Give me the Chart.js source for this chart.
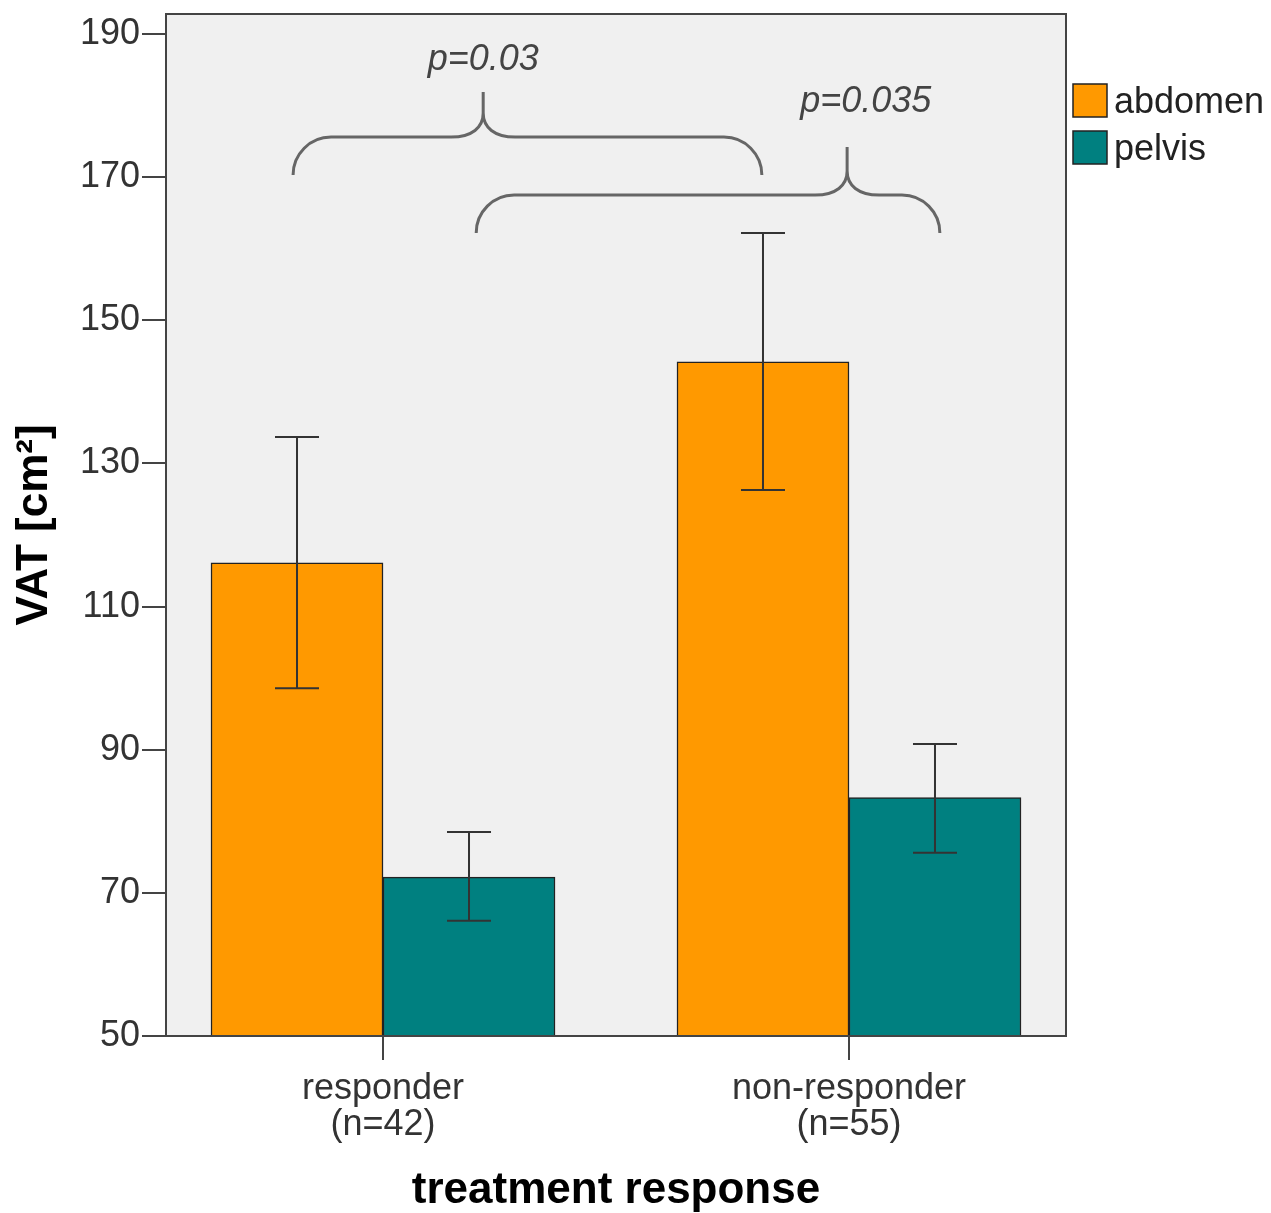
<!DOCTYPE html>
<html>
<head>
<meta charset="utf-8">
<script src="https://cdn.jsdelivr.net/npm/chart.js@4.4.1/dist/chart.umd.min.js"></script>
<style>
  html, body { margin: 0; padding: 0; background: #fff; }
</style>
</head>
<body>
<canvas id="vatChart" width="1271" height="1213"></canvas>
<script>
const categories = [["responder", "(n=42)"], ["non-responder", "(n=55)"]];
const seriesNames = ["abdomen", "pelvis"];
const abdomenMeans = [116.1, 144.2];
const abdomenLow = [98.6, 126.3];
const abdomenHigh = [133.7, 162.2];
const pelvisMeans = [72.2, 83.3];
const pelvisLow = [66.1, 75.6];
const pelvisHigh = [78.5, 90.8];
const yTicks = [50, 70, 90, 110, 130, 150, 170, 190];

// significance braces (x in category units, y in VAT units)
const braces = [
    { from: -0.193, to: 0.813, peak: 0.215, tip: 170.3, line: 175.6, top: 181.9, label: "p=0.03", labelX: 0.215, labelY: 186.4 },
    { from: 0.2, to: 1.195, peak: 0.996, tip: 162.2, line: 167.5, top: 174.2, label: "p=0.035", labelX: 1.036, labelY: 180.5 }
];

const FONT = "'Liberation Sans', Arial, sans-serif";
const errorBars = [[abdomenLow, abdomenHigh], [pelvisLow, pelvisHigh]];

function drawBrace(ctx, x0, x1, xp, yTip, yLine, yTop) {
    const r = yTip - yLine;
    const c = 32, ch = 24;
    ctx.beginPath();
    ctx.moveTo(x0, yTip);
    ctx.arcTo(x0, yLine, x0 + r, yLine, r);
    ctx.lineTo(xp - c, yLine);
    ctx.bezierCurveTo(xp - c * 0.35, yLine, xp, yLine - ch * 0.4, xp, yLine - ch);
    ctx.lineTo(xp, yTop);
    ctx.moveTo(xp, yLine - ch);
    ctx.bezierCurveTo(xp, yLine - ch * 0.4, xp + c * 0.35, yLine, xp + c, yLine);
    ctx.lineTo(x1 - r, yLine);
    ctx.arcTo(x1, yLine, x1, yTip, r);
    ctx.stroke();
}

const decor = {
    id: "decor",
    beforeDraw(chart) {
        const { ctx, chartArea: a } = chart;
        ctx.save();
        ctx.fillStyle = "#ffffff";
        ctx.fillRect(0, 0, chart.width, chart.height);
        ctx.fillStyle = "#f0f0f0";
        ctx.fillRect(a.left, a.top, a.right - a.left, a.bottom - a.top);
        ctx.restore();
    },
    afterDatasetsDraw(chart) {
        const { ctx } = chart;
        const y = chart.scales.y;
        ctx.save();
        ctx.strokeStyle = "#333";
        ctx.lineWidth = 2;
        chart.data.datasets.forEach((ds, di) => {
            const meta = chart.getDatasetMeta(di);
            meta.data.forEach((bar, i) => {
                const lo = y.getPixelForValue(errorBars[di][0][i]);
                const hi = y.getPixelForValue(errorBars[di][1][i]);
                ctx.beginPath();
                ctx.moveTo(bar.x, lo); ctx.lineTo(bar.x, hi);
                ctx.moveTo(bar.x - 22, lo); ctx.lineTo(bar.x + 22, lo);
                ctx.moveTo(bar.x - 22, hi); ctx.lineTo(bar.x + 22, hi);
                ctx.stroke();
            });
        });
        ctx.restore();
    },
    afterDraw(chart) {
        const { ctx, chartArea: a } = chart;
        const x = chart.scales.x, y = chart.scales.y;
        ctx.save();
        // frame
        ctx.strokeStyle = "#444";
        ctx.lineWidth = 2;
        ctx.strokeRect(a.left, a.top, a.right - a.left, a.bottom - a.top);

        // braces
        ctx.strokeStyle = "#666";
        ctx.lineWidth = 3;
        braces.forEach(b => {
            drawBrace(ctx,
                x.getPixelForValue(b.from), x.getPixelForValue(b.to), x.getPixelForValue(b.peak),
                y.getPixelForValue(b.tip), y.getPixelForValue(b.line), y.getPixelForValue(b.top));
            ctx.fillStyle = "#444";
            ctx.font = "italic 36px " + FONT;
            ctx.textAlign = "center";
            ctx.textBaseline = "middle";
            ctx.fillText(b.label, x.getPixelForValue(b.labelX), y.getPixelForValue(b.labelY));
        });

        // legend
        ctx.font = "36px " + FONT;
        ctx.textAlign = "left";
        ctx.textBaseline = "middle";
        chart.data.datasets.forEach((ds, i) => {
            const bx = a.right + 7, by = 84 + i * 47;
            ctx.fillStyle = ds.backgroundColor;
            ctx.fillRect(bx, by, 34, 33);
            ctx.strokeStyle = "#222";
            ctx.lineWidth = 1.5;
            ctx.strokeRect(bx, by, 34, 33);
            ctx.fillStyle = "#222";
            ctx.fillText(ds.label, bx + 41, by + 19);
        });
        ctx.restore();
    }
};

new Chart(document.getElementById("vatChart"), {
    type: "bar",
    data: {
        datasets: [
            {
                label: seriesNames[0],
                data: abdomenMeans.map((v, i) => ({ x: i, y: v })),
                backgroundColor: "#ff9900",
                borderColor: "#222",
                borderWidth: 1.5,
                borderSkipped: false
            },
            {
                label: seriesNames[1],
                data: pelvisMeans.map((v, i) => ({ x: i, y: v })),
                backgroundColor: "#008080",
                borderColor: "#222",
                borderWidth: 1.5,
                borderSkipped: false
            }
        ]
    },
    options: {
        responsive: false,
        animation: false,
        barThickness: 172,
        layout: { padding: { top: 14, right: 205, left: 0, bottom: 0 } },
        plugins: { legend: { display: false }, tooltip: { enabled: false } },
        scales: {
            x: {
                type: "linear",
                offset: false,
                min: -0.4657,
                max: 1.4657,
                afterBuildTicks: s => { s.ticks = categories.map((c, i) => ({ value: i })); },
                afterFit: s => { s.height = 177; s.paddingLeft = 0; s.paddingRight = 0; },
                grid: { display: true, offset: false, drawOnChartArea: false, drawTicks: true, tickLength: 24, color: "#444", lineWidth: 2 },
                border: { display: true, color: "#444", width: 2 },
                ticks: {
                    color: "#333",
                    padding: 11,
                    maxRotation: 0,
                    autoSkip: false,
                    font: { family: FONT, size: 36, lineHeight: 1.0 },
                    callback: (v, i) => categories[i]
                },
                title: {
                    display: true,
                    text: "treatment response",
                    color: "#000",
                    font: { family: FONT, size: 44, weight: "bold", lineHeight: 1.0 },
                    padding: { top: 0, bottom: 0 }
                }
            },
            y: {
                min: 50,
                max: 192.8,
                afterBuildTicks: s => { s.ticks = yTicks.map(v => ({ value: v })); },
                afterFit: s => { s.width = 166; s.paddingTop = 0; s.paddingBottom = 0; },
                grid: { display: true, drawOnChartArea: false, drawTicks: true, tickLength: 24, color: "#444", lineWidth: 2 },
                border: { display: true, color: "#444", width: 2 },
                ticks: {
                    color: "#333",
                    padding: 2,
                    font: { family: FONT, size: 36, lineHeight: 1.0 }
                },
                title: {
                    display: true,
                    text: "VAT [cm²]",
                    color: "#000",
                    font: { family: FONT, size: 44, weight: "bold", lineHeight: 1.0 },
                    padding: { top: 13, bottom: 0 }
                }
            }
        }
    },
    plugins: [decor]
});
</script>
</body>
</html>
